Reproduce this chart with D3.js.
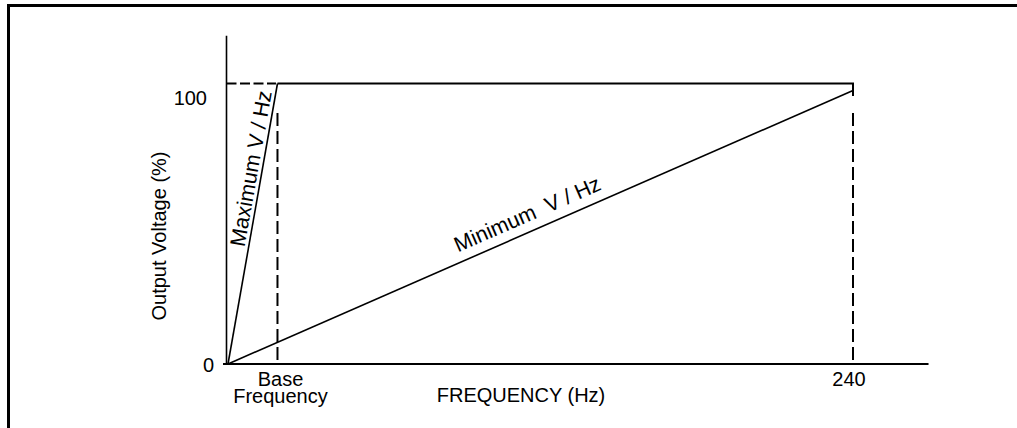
<!DOCTYPE html>
<html>
<head>
<meta charset="utf-8">
<script src="https://cdn.jsdelivr.net/npm/d3@7"></script>
<style>
  html, body { margin: 0; padding: 0; background: #fff; }
  svg { display: block; }
  text { font-family: "Liberation Sans", Arial, Helvetica, sans-serif; fill: #000; }
</style>
</head>
<body>
<svg id="chart" width="1017" height="428"></svg>
<script>
// V/Hz pattern limits: output voltage (%) against frequency (Hz)
const baseFrequency = 19;
const maxFrequency = 240;
const freqDomain = [0, 269];
const voltDomain = [0, 117];

const maxVhzFreq = [0, baseFrequency];
const maxVhzVolt = [0, 100];
const minVhzFreq = [0, maxFrequency];
const minVhzVolt = [0, 97.5];

const seriesLabels = ["Maximum V / Hz", "Minimum  V / Hz"];

const yTickValues = [0, 100];
const yTickLabels = ["0", "100"];
const xTickValues = [baseFrequency, maxFrequency];
const xTickLabels = [["Base", "Frequency"], ["240"]];

const guideTopVolt = 89.5;   // where dashed drop lines begin
const capBottomVolt = 95.5;  // short solid end cap at the 240 Hz corner

const xTitle = "FREQUENCY (Hz)";
const yTitle = "Output Voltage (%)";

const svg = d3.select("#chart");
const FONT = 20;
const LINE_LABEL_FONT = 21.5;

const x = d3.scaleLinear().domain([0, maxFrequency]).range([228, 853]);
const y = d3.scaleLinear().domain([0, 100]).range([364, 83.5]);

// outer frame (top and left edges)
svg.append("path")
  .attr("d", "M8.5,428V5.5H1017")
  .attr("fill", "none").attr("stroke", "#000").attr("stroke-width", 3);

// axes
svg.append("line")
  .attr("x1", x(0) - 1.5).attr("x2", x(0) - 1.5)
  .attr("y1", y(voltDomain[1])).attr("y2", y(0))
  .attr("stroke", "#000").attr("stroke-width", 1.6);
svg.append("line")
  .attr("x1", x(0) - 5).attr("x2", x(freqDomain[1]))
  .attr("y1", y(0)).attr("y2", y(0))
  .attr("stroke", "#000").attr("stroke-width", 2.2);

const line = d3.line().x(d => x(d[0])).y(d => y(d[1]));

// 100 % level: dashed up to base frequency, solid beyond it
svg.append("path")
  .attr("d", line([[0, 100], [baseFrequency, 100]]))
  .attr("transform", "translate(-1.5,0)")
  .attr("fill", "none").attr("stroke", "#000").attr("stroke-width", 2)
  .attr("stroke-dasharray", "10,3.5");
svg.append("path")
  .attr("d", line([[baseFrequency, 100], [maxFrequency, 100], [maxFrequency, capBottomVolt]]))
  .attr("fill", "none").attr("stroke", "#000").attr("stroke-width", 2);

// dashed drop lines at base frequency and 240 Hz
xTickValues.forEach(f => {
  svg.append("path")
    .attr("d", line([[f, guideTopVolt], [f, 0]]))
    .attr("fill", "none").attr("stroke", "#000").attr("stroke-width", 2)
    .attr("stroke-dasharray", "13,5");
});

// V/Hz limit lines
const maxPts = maxVhzFreq.map((f, i) => [f, maxVhzVolt[i]]);
const minPts = minVhzFreq.map((f, i) => [f, minVhzVolt[i]]);
[maxPts, minPts].forEach(pts => {
  svg.append("path")
    .attr("d", line(pts))
    .attr("fill", "none").attr("stroke", "#000").attr("stroke-width", 1.6);
});

// labels running along each limit line
function alongLabel(pts, t, offset, text) {
  const x0 = x(pts[0][0]), y0 = y(pts[0][1]);
  const x1 = x(pts[1][0]), y1 = y(pts[1][1]);
  const ang = Math.atan2(y1 - y0, x1 - x0);
  const px = x0 + (x1 - x0) * t, py = y0 + (y1 - y0) * t;
  const nx = Math.sin(ang) * offset, ny = -Math.cos(ang) * offset;
  svg.append("text")
    .attr("transform", `translate(${px + nx},${py + ny}) rotate(${ang * 180 / Math.PI})`)
    .attr("text-anchor", "middle")
    .style("white-space", "pre")
    .attr("font-size", LINE_LABEL_FONT)
    .text(text);
}
alongLabel(maxPts, 0.69, 4, seriesLabels[0]);
alongLabel(minPts, 0.49, 10, seriesLabels[1]);

// y tick labels
const yLabelPos = [{dx: -14, dy: 8}, {dx: -21, dy: 21}];
yTickValues.forEach((v, i) => {
  svg.append("text")
    .attr("x", x(0) + yLabelPos[i].dx).attr("y", y(v) + yLabelPos[i].dy)
    .attr("text-anchor", "end").attr("font-size", FONT)
    .text(yTickLabels[i]);
});

// x tick labels
const xLabelShift = [3, -4];
xTickValues.forEach((f, i) => {
  xTickLabels[i].forEach((s, j) => {
    svg.append("text")
      .attr("x", x(f) + xLabelShift[i]).attr("y", y(0) + 21.5 + j * 17)
      .attr("text-anchor", "middle").attr("font-size", FONT)
      .text(s);
  });
});

// axis titles
svg.append("text")
  .attr("x", 521).attr("y", y(0) + 38)
  .attr("text-anchor", "middle").attr("font-size", FONT)
  .text(xTitle);
svg.append("text")
  .attr("transform", `translate(166,236) rotate(-90)`)
  .attr("text-anchor", "middle").attr("font-size", FONT)
  .text(yTitle);
</script>
</body>
</html>
